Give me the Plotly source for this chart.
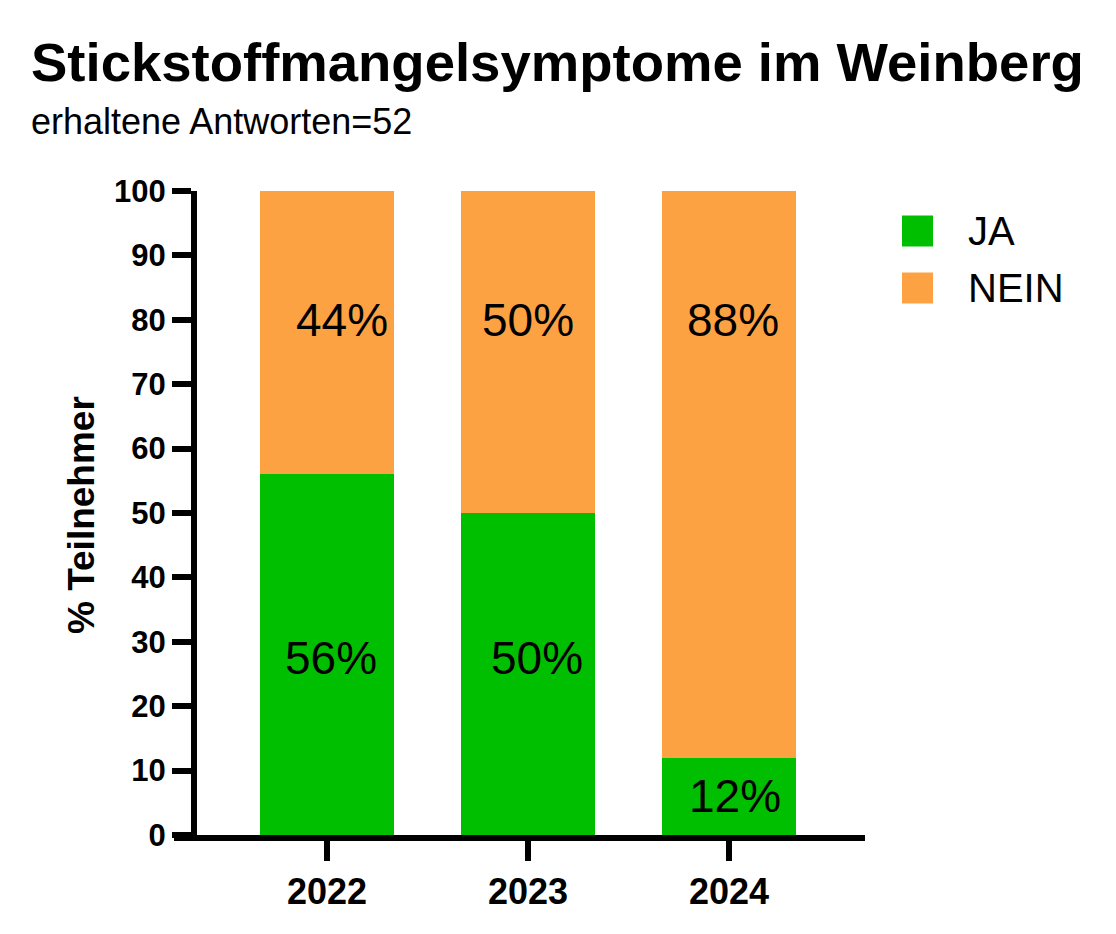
import plotly.graph_objects as go

years = ["2022", "2023", "2024"]
ja = [56, 50, 12]
nein = [44, 50, 88]
ja_labels = ["56%", "50%", "12%"]
nein_labels = ["44%", "50%", "88%"]
y_ticks = list(range(0, 101, 10))

GREEN = "#00BF00"
ORANGE = "#FCA242"
FONT = "Liberation Sans, Arial, sans-serif"
W, H = 1116, 934

def px(x):
    return x / W

def py(y):
    return 1 - y / H

fig = go.Figure()
fig.add_trace(go.Bar(x=years, y=ja, name="JA", marker=dict(color=GREEN, line=dict(width=0)), showlegend=False))
fig.add_trace(go.Bar(x=years, y=nein, name="NEIN", marker=dict(color=ORANGE, line=dict(width=0)), showlegend=False))

annotations = []
# data label placement (style only)
ja_label_pos = [27.5, 27.5, 6]
nein_label_pos = [80, 80, 80]
ja_shift = [4, 9, 6]
nein_shift = [15, 0, 4]
for i, yr in enumerate(years):
    annotations.append(dict(x=i, y=ja_label_pos[i], xref="x", yref="y", text=ja_labels[i], showarrow=False,
                            xshift=ja_shift[i], font=dict(family=FONT, size=46, color="black")))
    annotations.append(dict(x=i, y=nein_label_pos[i], xref="x", yref="y", text=nein_labels[i], showarrow=False,
                            xshift=nein_shift[i], font=dict(family=FONT, size=46, color="black")))

# title and subtitle
annotations.append(dict(x=px(29), y=py(62), xref="paper", yref="paper", xanchor="left", yanchor="middle",
                        text="<b>Stickstoffmangelsymptome im Weinberg</b>", showarrow=False,
                        font=dict(family=FONT, size=54.5, color="black")))
annotations.append(dict(x=px(29), y=py(122), xref="paper", yref="paper", xanchor="left", yanchor="middle",
                        text="erhaltene Antworten=52", showarrow=False,
                        font=dict(family=FONT, size=36, color="black")))
# y axis title
annotations.append(dict(x=px(81), y=py(515), xref="paper", yref="paper", xanchor="center", yanchor="middle",
                        text="<b>% Teilnehmer</b>", textangle=-90, showarrow=False,
                        font=dict(family=FONT, size=37, color="black")))

# legend (manual, large swatches)
legend_items = [("JA", GREEN, 231), ("NEIN", ORANGE, 288)]
shapes = []
for name, col, yc in legend_items:
    shapes.append(dict(type="rect", xref="paper", yref="paper", x0=px(902), x1=px(933),
                       y0=py(yc + 15.5), y1=py(yc - 15.5), fillcolor=col, line=dict(width=0)))
    annotations.append(dict(x=px(966), y=py(yc), xref="paper", yref="paper", xanchor="left", yanchor="middle",
                            text=name, showarrow=False, font=dict(family=FONT, size=40, color="black")))

fig.update_layout(
    width=W, height=H,
    margin=dict(l=0, r=0, t=0, b=0),
    paper_bgcolor="white", plot_bgcolor="white",
    barmode="stack", bargap=0.333,
    showlegend=False,
    annotations=annotations,
    shapes=shapes,
    xaxis=dict(domain=[px(174), px(865)], range=[-0.761, 2.677], type="category",
               showline=True, linecolor="black", linewidth=6,
               ticks="outside", ticklen=20, tickwidth=6, tickcolor="black",
               tickfont=dict(family=FONT, size=36, color="black", weight="bold"),
               showgrid=False, zeroline=False, automargin=False),
    yaxis=dict(domain=[py(835), py(191)], range=[0, 100], anchor="free", position=px(194),
               tickvals=y_ticks, showline=True, linecolor="black", linewidth=6,
               ticks="outside", ticklen=19, tickwidth=6, tickcolor="black",
               tickfont=dict(family=FONT, size=31, color="black", weight="bold"),
               showgrid=False, zeroline=False, automargin=False),
)

fig.write_html("out.html", config={"displayModeBar": False},
               post_script="document.body.style.margin='0';")
